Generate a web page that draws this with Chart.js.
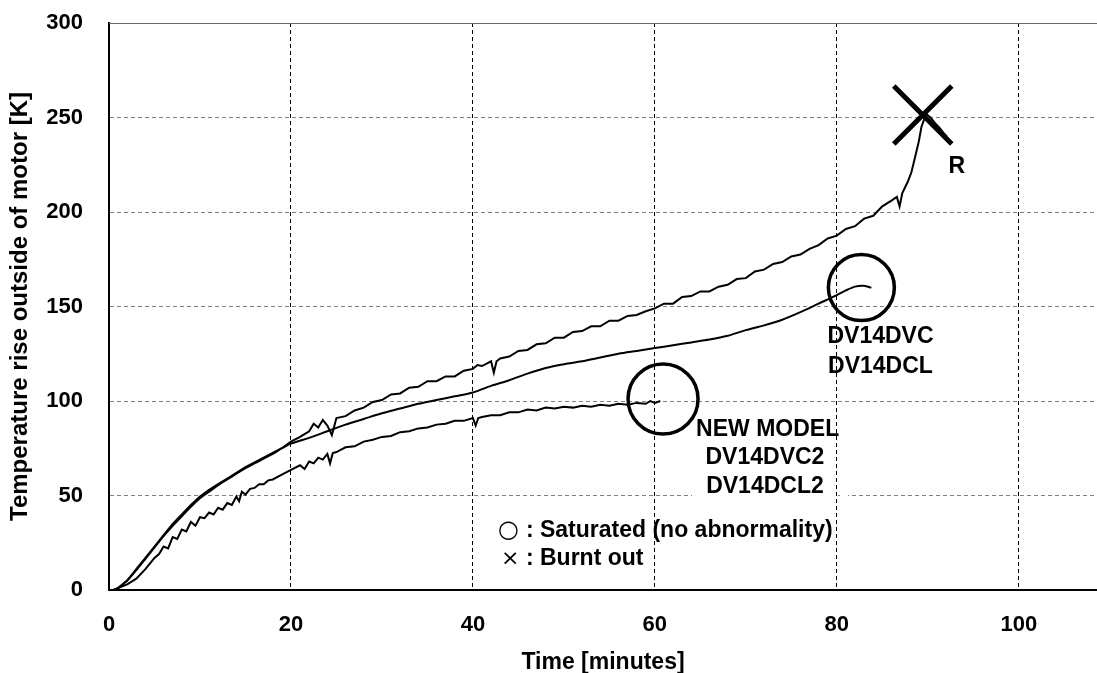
<!DOCTYPE html>
<html>
<head>
<meta charset="utf-8">
<script src="https://cdn.jsdelivr.net/npm/chart.js@4.4.1/dist/chart.umd.min.js"></script>
<style>
  body { margin: 0; background: #fff; }
  #wrap { width: 1097px; height: 673px; }
</style>
</head>
<body>
<div id="wrap"><canvas id="motorChart"></canvas></div>
<script>
// curve R (old motor that burnt out)
const timeR = [
  0.5, 1, 2, 3, 4, 5, 6, 7, 8, 9,
  10, 11, 12, 13, 14, 15, 16, 17, 18, 19,
  20, 21, 22, 22.5, 23, 23.5, 24, 24.5, 25, 26,
  27, 28, 29, 30, 31, 32, 33, 34, 35, 36,
  37, 38, 39, 40, 40.5, 41, 42, 42.3, 42.6, 43,
  44, 45, 46, 47, 48, 49, 50, 51, 52, 53,
  54, 55, 56, 57, 58, 59, 60, 61, 62, 63,
  64, 65, 66, 67, 68, 69, 70, 71, 72, 73,
  74, 75, 76, 77, 78, 79, 80, 81, 82, 83,
  84, 85, 86, 86.6, 86.9, 87.2, 87.8, 88.2, 88.6, 89,
  89.3, 89.6, 89.8, 90.3, 90.8, 91.3, 91.7, 92.1
];
const tempR = [
  0, 1, 5, 11, 17, 23, 29, 35, 40, 45,
  49.5, 53, 56, 59, 62, 65, 67.5, 70, 72.5, 75,
  78.5, 81, 84, 88, 86, 90, 87, 82, 91, 92,
  95, 96.5, 99.5, 100.5, 103.5, 104, 107, 107.5, 110.5, 110.5,
  113, 113, 116, 117, 119, 118.5, 121, 115, 121, 122.5,
  123.5, 126.5, 127, 130, 130.5, 133.5, 133.5, 136.5, 137, 139.5,
  139.5, 142.5, 142.5, 145, 145.5, 147.5, 149, 151.5, 151.5, 155,
  155.5, 158, 158, 160.5, 161.5, 164.5, 165, 168.5, 169.5, 172.5,
  173.5, 176.5, 177.5, 180.5, 182.5, 186, 187.5, 191, 192.5, 196.5,
  198, 203, 206, 208, 203, 210, 216, 221, 229, 237,
  245, 249, 252, 250, 247, 244.5, 242, 240
];

// DV14DVC / DV14DCL
const timeOld = [
  0.5, 1, 2, 3, 4, 5, 6, 7, 8, 9,
  10, 11, 12, 13, 14, 15, 16, 17, 18, 19,
  20, 22, 24, 26, 28, 30, 32, 34, 36, 38,
  40, 42, 44, 46, 48, 50, 52, 54, 56, 58,
  60, 62, 64, 66, 68, 70, 72, 74, 76, 78,
  80, 81, 82, 82.9, 83.8
];
const tempOld = [
  0, 1, 5, 10.5, 16.5, 22.5, 28.5, 34, 39, 44,
  48.5, 52, 55.5, 58.5, 61.5, 64.5, 67, 69.5, 72, 75,
  77.5, 80.5, 84, 87.5, 90.5, 93.5, 96, 98.5, 100.5, 102.5,
  104.5, 108, 111, 114.5, 117.5, 119.5, 121, 123, 125, 126.5,
  128, 129.5, 131, 132.5, 134.5, 137.5, 140, 143, 147, 151.5,
  156, 158.5, 160.5, 161, 160
];

// NEW MODEL DV14DVC2 / DV14DCL2
const timeNew = [
  0.5, 1, 2, 3, 4, 5, 5.5, 6, 6.5, 7,
  7.5, 8, 8.5, 9, 9.5, 10, 10.5, 11, 11.5, 12,
  12.5, 13, 13.5, 14, 14.3, 14.6, 15, 15.5, 16, 16.5,
  17, 17.5, 18, 19, 20, 21, 21.5, 22, 22.5, 23,
  23.5, 24, 24.3, 24.6, 25, 26, 27, 28, 29, 30,
  31, 32, 33, 34, 35, 36, 37, 38, 39, 40,
  40.3, 40.6, 41, 42, 43, 44, 45, 46, 47, 48,
  49, 50, 51, 52, 53, 54, 55, 56, 57, 58,
  59, 59.5, 60, 60.6
];
const tempNew = [
  0, 1, 3, 6, 11, 17, 19, 23, 22, 28,
  27, 32, 31, 36, 34, 38.5, 38, 41, 40, 43.5,
  42.5, 46, 45, 49.5, 47, 52, 50.5, 53.5, 54, 56,
  56, 58, 58.5, 61, 63.5, 66, 64, 68, 67, 70,
  69, 72, 67, 72.5, 73, 75.5, 76, 78.5, 79.5, 81,
  81.5, 83.5, 84, 85.5, 86, 87.5, 88, 89.5, 89.5, 91,
  87, 91, 91.5, 92.5, 92.5, 94, 94, 95.5, 95, 96.5,
  96, 97, 96.5, 97.5, 97, 98, 97.5, 98.5, 98, 99,
  98.5, 100, 99, 100
];

// markers: circle = saturated, cross = burnt out
const saturatedTime = [60.9, 82.7];
const saturatedTemp = [101, 160];
const burntTime = [89.45];
const burntTemp = [251.3];

const xTicks = [0, 20, 40, 60, 80, 100];
const yTicks = [0, 50, 100, 150, 200, 250, 300];

function toPoints(xs, ys) {
  return xs.map((x, i) => ({ x: x, y: ys[i] }));
}

Chart.defaults.font.family = "'Liberation Sans', Arial, sans-serif";
Chart.defaults.font.size = 22;
Chart.defaults.font.weight = 'bold';
Chart.defaults.color = '#000';

const notesPlugin = {
  id: 'notes',
  beforeDatasetsDraw(chart) {
    const ctx = chart.ctx;
    const area = chart.chartArea;
    const y = chart.scales.y;
    ctx.save();
    // thin frame line along the top
    ctx.strokeStyle = '#666';
    ctx.lineWidth = 1;
    ctx.beginPath();
    ctx.moveTo(area.left, area.top + 0.5);
    ctx.lineTo(area.right, area.top + 0.5);
    ctx.stroke();
    // label block hides the 50 gridline
    ctx.fillStyle = '#fff';
    const y50 = y.getPixelForValue(50);
    ctx.fillRect(692, y50 - 5, 143, 10);
    ctx.fillRect(840, y50 - 5, 8, 10);
    ctx.restore();
  },
  afterDatasetsDraw(chart) {
    const ctx = chart.ctx;
    const x = chart.scales.x;
    const y = chart.scales.y;
    ctx.save();
    ctx.fillStyle = '#000';
    ctx.textBaseline = 'middle';
    ctx.font = "bold 23px 'Liberation Sans', Arial, sans-serif";
    ctx.textAlign = 'center';
    ctx.fillText('R', x.getPixelForValue(93.2), y.getPixelForValue(224));
    ctx.fillText('DV14DVC', x.getPixelForValue(84.8), y.getPixelForValue(134));
    ctx.fillText('DV14DCL', x.getPixelForValue(84.8), y.getPixelForValue(118));
    ctx.fillText('NEW MODEL', x.getPixelForValue(72.4), y.getPixelForValue(84.7));
    ctx.fillText('DV14DVC2', x.getPixelForValue(72.1), y.getPixelForValue(69.8));
    ctx.fillText('DV14DCL2', x.getPixelForValue(72.1), y.getPixelForValue(54.5));

    // key
    const kx = x.getPixelForValue(42.97);
    const k1 = y.getPixelForValue(31.2);
    const k2 = y.getPixelForValue(16.4);
    ctx.textAlign = 'left';
    ctx.font = "24px 'DejaVu Sans', sans-serif";
    ctx.fillText('○', kx - 2, k1);
    ctx.font = "22px 'DejaVu Sans', sans-serif";
    ctx.fillText('×', kx + 1, k2);
    ctx.font = "bold 23px 'Liberation Sans', Arial, sans-serif";
    ctx.fillText(': Saturated (no abnormality)', kx + 26, k1);
    ctx.fillText(': Burnt out', kx + 26, k2);
    ctx.restore();
  }
};

const curveStyle = {
  showLine: true,
  borderColor: '#000',
  borderWidth: 2,
  pointRadius: 0,
  tension: 0,
  fill: false
};

const ctx = document.getElementById('motorChart').getContext('2d');
const motorChart = new Chart(ctx, {
  type: 'scatter',
  data: {
    datasets: [
      Object.assign({ label: 'R', data: toPoints(timeR, tempR) }, curveStyle),
      Object.assign({ label: 'DV14DVC / DV14DCL', data: toPoints(timeOld, tempOld) }, curveStyle, { tension: 0.3 }),
      Object.assign({ label: 'NEW MODEL', data: toPoints(timeNew, tempNew) }, curveStyle),
      {
        label: 'Saturated',
        data: toPoints(saturatedTime, saturatedTemp),
        pointStyle: 'circle',
        pointRadius: [35, 33],
        borderColor: '#000',
        backgroundColor: 'rgba(0,0,0,0)',
        borderWidth: 3.5,
        clip: false
      },
      {
        label: 'Burnt out',
        data: toPoints(burntTime, burntTemp),
        pointStyle: 'crossRot',
        pointRadius: 41,
        borderColor: '#000',
        borderWidth: 5,
        clip: false
      }
    ]
  },
  options: {
    responsive: true,
    maintainAspectRatio: false,
    animation: false,
    layout: { autoPadding: false, padding: { top: 23, left: 0, right: 0, bottom: 0 } },
    plugins: {
      legend: { display: false },
      tooltip: { enabled: false }
    },
    scales: {
      x: {
        type: 'linear',
        min: 0,
        max: 108.6,
        afterBuildTicks: (scale) => {
          scale.ticks = xTicks.map(v => ({ value: v }));
        },
        afterFit: (scale) => {
          scale.height = 83;
          scale.paddingLeft = 0;
          scale.paddingRight = 0;
        },
        ticks: { padding: 22 },
        grid: {
          drawTicks: false,
          color: (c) => (c.tick && c.tick.value === 0) ? 'rgba(0,0,0,0)' : '#000',
          lineWidth: 1
        },
        border: { display: true, color: '#000', width: 2, dash: [4, 3] },
        title: {
          display: true,
          text: 'Time [minutes]',
          font: { size: 23, weight: 'bold' },
          padding: { top: 0, bottom: -3 }
        }
      },
      y: {
        type: 'linear',
        min: 0,
        max: 300,
        afterBuildTicks: (scale) => {
          scale.ticks = yTicks.map(v => ({ value: v }));
        },
        afterFit: (scale) => {
          scale.width = 109;
          scale.paddingTop = 0;
          scale.paddingBottom = 0;
        },
        ticks: { padding: 26 },
        grid: {
          drawTicks: false,
          color: (c) => (c.tick && (c.tick.value === 0 || c.tick.value === 300)) ? 'rgba(0,0,0,0)' : '#808080',
          lineWidth: 1
        },
        border: { display: true, color: '#000', width: 2, dash: [4, 3] },
        title: {
          display: true,
          text: 'Temperature rise outside of motor [K]',
          font: { size: 24, weight: 'bold' },
          padding: { top: 6, bottom: 0 }
        }
      }
    }
  },
  plugins: [notesPlugin]
});
</script>
</body>
</html>
